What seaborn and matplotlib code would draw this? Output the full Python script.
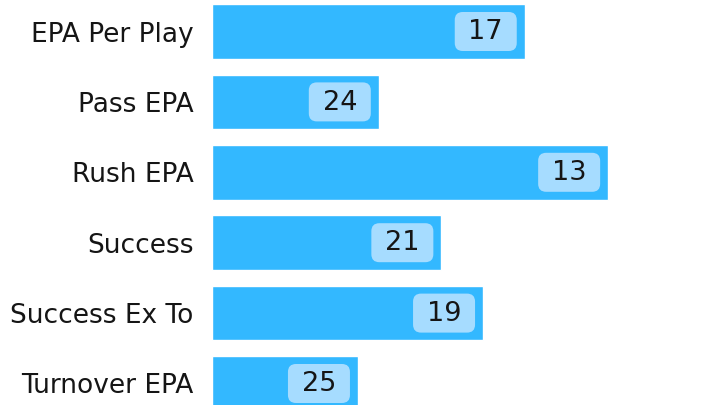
import matplotlib
matplotlib.use("Agg")
import matplotlib.pyplot as plt
import seaborn as sns
import pandas as pd
from matplotlib.patches import FancyBboxPatch

# chart data
metrics = ["EPA Per Play", "Pass EPA", "Rush EPA", "Success", "Success Ex To", "Turnover EPA"]
bar_values = [15, 8, 19, 11, 13, 7]
ranks = [17, 24, 13, 21, 19, 25]

bar_color = "#33b8ff"
box_color = "#a6dcff"
text_color = "#151515"

sns.set_theme(style="white")
plt.rcParams["font.family"] = ["DejaVu Sans"]

df = pd.DataFrame({"metric": metrics, "value": bar_values, "rank": ranks})

W, H = 728, 405
fig = plt.figure(figsize=(W / 100, H / 100), dpi=100)
ax_left = 212
ax = fig.add_axes([ax_left / W, 0, 1 - ax_left / W, 1])

sns.barplot(data=df, x="value", y="metric", orient="h", color=bar_color,
            saturation=1, width=0.774, ax=ax)

px_x = 20.85   # pixels per x unit
px_y = 70.4    # pixels per category
ax.set_xlim(0, (W - ax_left) / px_x)
ax.set_ylim(5 + (H - 383.5) / px_y, -31.5 / px_y)

# rank badges at the end of each bar
box_w, box_h, gap = 62 / px_x, 39 / px_y, 8 / px_x
for i, (v, r) in enumerate(zip(df["value"], df["rank"])):
    x1 = v - gap - box_w
    patch = FancyBboxPatch((x1, i - box_h / 2), box_w, box_h,
                           boxstyle="round,pad=0,rounding_size=%f" % (8 / px_x),
                           mutation_aspect=px_x / px_y,
                           facecolor=box_color, edgecolor="none", zorder=3)
    ax.add_patch(patch)
    ax.text(x1 + box_w / 2, i + 0.01, str(r), ha="center", va="center",
            fontsize=19.5, color=text_color, zorder=4)

ax.set_xlabel("")
ax.set_ylabel("")
ax.set_xticks([])
ax.tick_params(axis="y", length=0, pad=13.5, labelsize=19, labelcolor=text_color)
sns.despine(ax=ax, left=True, bottom=True)

fig.savefig("out.png", dpi=100)
